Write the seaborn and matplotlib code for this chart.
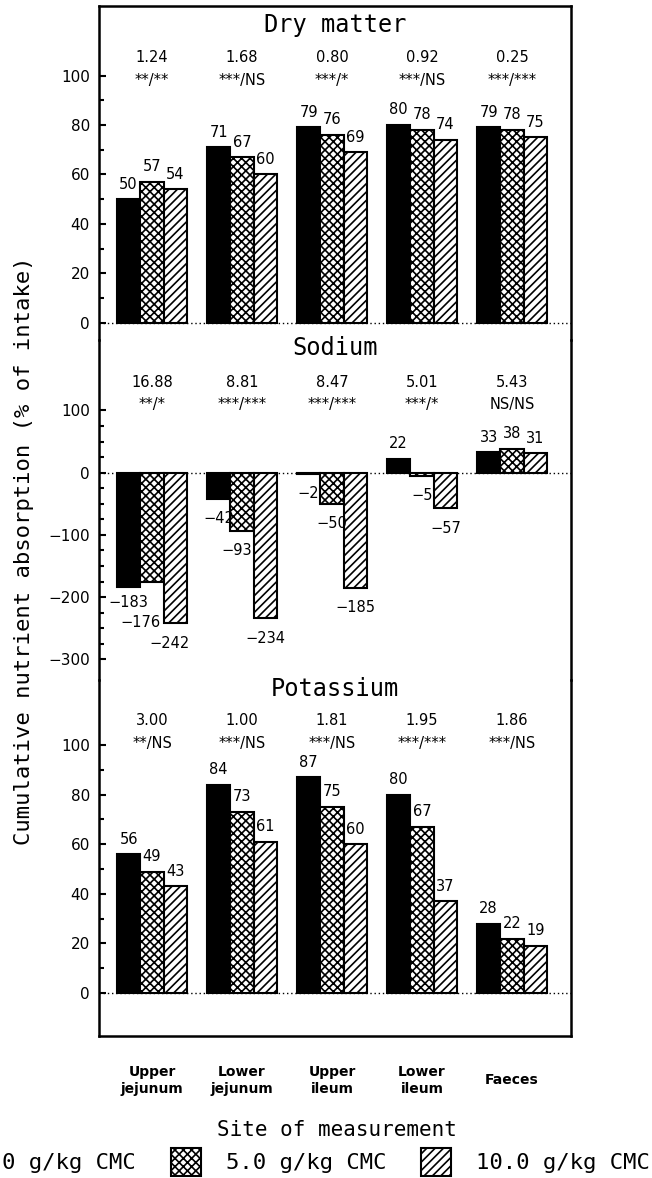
import matplotlib
matplotlib.use("Agg")
import matplotlib.pyplot as plt
import seaborn as sns
from pandas import DataFrame
from matplotlib.patches import Patch
from matplotlib.ticker import FixedLocator


# Sites and diets
sites = ["Upper\njejunum", "Lower\njejunum", "Upper\nileum", "Lower\nileum", "Faeces"]
diets = ["0 g/kg CMC", "5.0 g/kg CMC", "10.0 g/kg CMC"]

# Cumulative absorption (% of intake), one list per diet
dry_matter = [[50, 71, 79, 80, 79], [57, 67, 76, 78, 78], [54, 60, 69, 74, 75]]
sodium = [[-183, -42, -2, 22, 33], [-176, -93, -50, -5, 38], [-242, -234, -185, -57, 31]]
potassium = [[56, 84, 87, 80, 28], [49, 73, 75, 67, 22], [43, 61, 60, 37, 19]]

# SED and significance per site
dry_matter_sed = ["1.24", "1.68", "0.80", "0.92", "0.25"]
dry_matter_sig = ["**/**", "***/NS", "***/*", "***/NS", "***/***"]
sodium_sed = ["16.88", "8.81", "8.47", "5.01", "5.43"]
sodium_sig = ["**/*", "***/***", "***/***", "***/*", "NS/NS"]
potassium_sed = ["3.00", "1.00", "1.81", "1.95", "1.86"]
potassium_sig = ["**/NS", "***/NS", "***/NS", "***/***", "***/NS"]

W, H = 652, 1178
MONO = "DejaVu Sans Mono"
hatches = ["", "xxxx", "////"]
colors = ["black", "white", "white"]

# label nudges in points: (panel, diet, site) -> (dx, dy)
nudges = {("Sodium", 0, 0): (0, 3), ("Sodium", 1, 0): (-8, -15),
          ("Sodium", 2, 0): (-4, 0), ("Sodium", 1, 1): (-3.5, 0)}


def to_long(values):
    rows = []
    for d, diet in enumerate(diets):
        for s, site in enumerate(sites):
            rows.append({"site": site, "diet": diet, "value": values[d][s]})
    return DataFrame(rows)


def px_rect(top, bottom, left=99, right=571):
    return [left / W, 1 - bottom / H, (right - left) / W, (bottom - top) / H]


panels = [
    dict(name="Dry matter", values=dry_matter, sed=dry_matter_sed, sig=dry_matter_sig,
         rect=px_rect(6, 340), ylim=(-6.9, 128.1), major=[0, 20, 40, 60, 80, 100],
         minor=[10, 30, 50, 70, 90], title_y=0.943, stat_y=(0.847, 0.778), spines=("top",)),
    dict(name="Sodium", values=sodium, sed=sodium_sed, sig=sodium_sig,
         rect=px_rect(340, 680), ylim=(-333.3, 213.3), major=[-300, -200, -100, 0, 100],
         minor=[-275, -250, -225, -175, -150, -125, -75, -50, -25, 25, 50, 75],
         title_y=0.976, stat_y=(0.876, 0.809), spines=()),
    dict(name="Potassium", values=potassium, sed=potassium_sed, sig=potassium_sig,
         rect=px_rect(680, 1036), ylim=(-17.3, 126.2), major=[0, 20, 40, 60, 80, 100],
         minor=[10, 30, 50, 70, 90], title_y=0.975, stat_y=(0.886, 0.823), spines=("bottom",)),
]

sns.set_style("ticks")
plt.rcParams["font.family"] = ["DejaVu Sans"]
plt.rcParams["hatch.linewidth"] = 1.2
for key in ["text.color", "axes.labelcolor", "axes.edgecolor", "xtick.color", "ytick.color"]:
    plt.rcParams[key] = "black"

fig = plt.figure(figsize=(W / 100, H / 100), dpi=100)

for i, p in enumerate(panels):
    ax = fig.add_axes(p["rect"])
    ax.set_facecolor("none")
    sns.barplot(data=to_long(p["values"]), x="site", y="value", hue="diet",
                order=sites, hue_order=diets, palette=colors, saturation=1,
                edgecolor="black", linewidth=1.5, width=0.78, errorbar=None,
                legend=False, ax=ax)
    ax.axhline(0, color="black", ls=(0, (1, 2)), lw=1, zorder=0.5)

    # Hatches and value labels
    for d, cont in enumerate(ax.containers):
        for s, bar in enumerate(cont):
            bar.set_hatch(hatches[d])
            val = p["values"][d][s]
            dx, dy = nudges.get((p["name"], d, s), (0, 0))
            if val >= 0:
                off, va = 5.5, "bottom"
            else:
                off, va = -9, "top"
            ax.annotate(f"{val:d}".replace("-", "\u2212"),
                        (bar.get_x() + bar.get_width() / 2, val),
                        xytext=(dx, off + dy), textcoords="offset points",
                        ha="center", va=va, fontsize=10.5)

    # Panel title and stats
    ax.text(0.5, p["title_y"], p["name"], transform=ax.transAxes, ha="center",
            va="center", family=MONO, fontsize=17)
    for s in range(len(sites)):
        ax.text(s, p["stat_y"][0], p["sed"][s], transform=ax.get_xaxis_transform(),
                ha="center", va="center", fontsize=10.5)
        ax.text(s, p["stat_y"][1], p["sig"][s], transform=ax.get_xaxis_transform(),
                ha="center", va="center", fontsize=10.5)

    ax.set_xlim(-0.589, 4.656)
    ax.set_ylim(*p["ylim"])
    ax.yaxis.set_major_locator(FixedLocator(p["major"]))
    ax.yaxis.set_minor_locator(FixedLocator(p["minor"]))
    ax.tick_params(axis="y", which="both", direction="in", width=1.5, labelsize=11, pad=6.5)
    ax.tick_params(axis="y", which="major", length=5)
    ax.tick_params(axis="y", which="minor", length=3.5)
    ax.set_yticklabels([str(v).replace("-", "\u2212") for v in p["major"]])
    ax.set_xlabel("")
    ax.set_ylabel("")

    for side in ["top", "bottom", "left", "right"]:
        ax.spines[side].set_linewidth(1.8)
        ax.spines[side].set_color("black")
    for side in ["top", "bottom"]:
        ax.spines[side].set_visible(side in p["spines"])

    if p["name"] != "Potassium":
        ax.tick_params(axis="x", bottom=False, labelbottom=False)
    else:
        ax.tick_params(axis="x", length=0, pad=32, labelsize=10)
        for lbl in ax.get_xticklabels():
            lbl.set_fontweight("bold")
            lbl.set_verticalalignment("center")

# Axis titles
fig.text(24 / W, 1 - 551 / H, "Cumulative nutrient absorption (% of intake)",
         rotation=90, ha="center", va="center", family=MONO, fontsize=16)
fig.text(337 / W, 1 - 1130 / H, "Site of measurement", ha="center", va="center",
         family=MONO, fontsize=15)

# Legend
handles = [Patch(facecolor=colors[d], edgecolor="black", linewidth=1.5, hatch=hatches[d])
           for d in range(len(diets))]
fig.legend(handles, diets, loc="center left", bbox_to_anchor=(-53 / W, 1 - 1162 / H),
           ncol=3, frameon=False, borderpad=0, borderaxespad=0,
           prop={"family": MONO, "size": 16}, handlelength=1.36, handleheight=1.5,
           handletextpad=1.13, columnspacing=1.55)

fig.savefig("out.png", dpi=100)
